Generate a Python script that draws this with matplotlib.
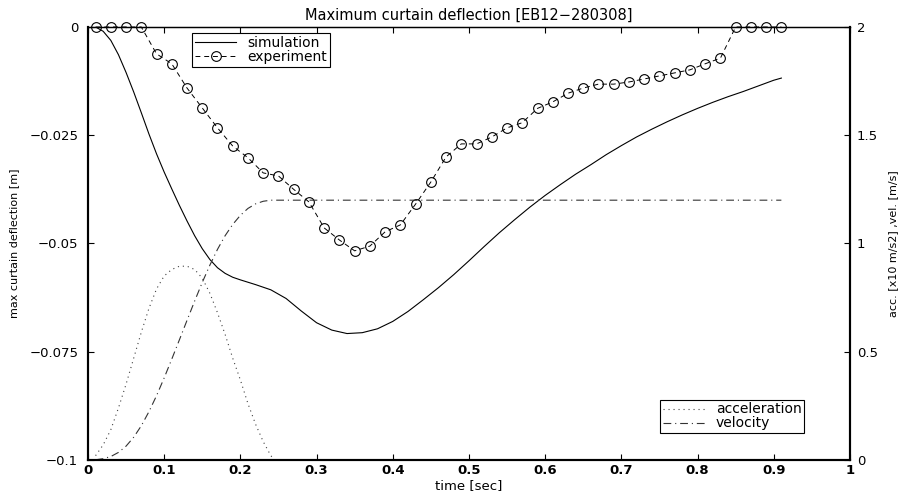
import matplotlib
matplotlib.use("Agg")
import matplotlib.pyplot as plt

# simulation (max curtain deflection, m)
sim_t = [0.01, 0.02, 0.03, 0.04, 0.05, 0.06, 0.07, 0.08, 0.09, 0.10,
         0.11, 0.12, 0.13, 0.14, 0.15, 0.16, 0.17, 0.18, 0.19, 0.20,
         0.22, 0.24, 0.26, 0.28, 0.30, 0.32, 0.34, 0.36, 0.38, 0.40,
         0.42, 0.44, 0.46, 0.48, 0.50, 0.52, 0.54, 0.56, 0.58, 0.60,
         0.62, 0.64, 0.66, 0.68, 0.70, 0.72, 0.74, 0.76, 0.78, 0.80,
         0.82, 0.84, 0.86, 0.88, 0.90, 0.91]
sim_y = [0.0, -0.0010, -0.0031, -0.0064, -0.0105, -0.0150, -0.0198, -0.0247, -0.0293, -0.0335,
         -0.0374, -0.0412, -0.0448, -0.0482, -0.0512, -0.0537, -0.0556, -0.0569, -0.0578, -0.0584,
         -0.0595, -0.0607, -0.0627, -0.0656, -0.0683, -0.0700, -0.0708, -0.0706, -0.0697, -0.0680,
         -0.0657, -0.0630, -0.0602, -0.0572, -0.0540, -0.0507, -0.0475, -0.0445, -0.0416, -0.0389,
         -0.0364, -0.0340, -0.0318, -0.0295, -0.0274, -0.0254, -0.0236, -0.0219, -0.0203, -0.0188,
         -0.0174, -0.0161, -0.0149, -0.0136, -0.0123, -0.0118]

# experiment
exp_t = [0.01, 0.03, 0.05, 0.07, 0.09, 0.11, 0.13, 0.15, 0.17, 0.19,
         0.21, 0.23, 0.25, 0.27, 0.29, 0.31, 0.33, 0.35, 0.37, 0.39,
         0.41, 0.43, 0.45, 0.47, 0.49, 0.51, 0.53, 0.55, 0.57, 0.59,
         0.61, 0.63, 0.65, 0.67, 0.69, 0.71, 0.73, 0.75, 0.77, 0.79,
         0.81, 0.83, 0.85, 0.87, 0.89, 0.91]
exp_y = [0.0, 0.0, 0.0, 0.0, -0.0062, -0.0085, -0.0141, -0.0187, -0.0233, -0.0275,
         -0.0302, -0.0337, -0.0344, -0.0375, -0.0404, -0.0464, -0.0492, -0.0517, -0.0506, -0.0473,
         -0.0457, -0.0409, -0.0358, -0.0300, -0.0270, -0.0270, -0.0254, -0.0233, -0.0221, -0.0188,
         -0.0173, -0.0153, -0.0141, -0.0132, -0.0132, -0.0127, -0.0120, -0.0113, -0.0106, -0.0099,
         -0.0085, -0.0072, 0.0, 0.0, 0.0, 0.0]

# acceleration [x10 m/s2]
acc_t = [0.01, 0.02, 0.03, 0.04, 0.05, 0.06, 0.07, 0.08, 0.09, 0.10,
         0.11, 0.12, 0.13, 0.14, 0.15, 0.16, 0.17, 0.18, 0.19, 0.20,
         0.21, 0.22, 0.23, 0.24, 0.245]
acc_v = [0.02, 0.07, 0.14, 0.24, 0.35, 0.47, 0.59, 0.70, 0.79, 0.85,
         0.88, 0.895, 0.895, 0.88, 0.84, 0.77, 0.68, 0.58, 0.47, 0.37,
         0.26, 0.165, 0.085, 0.02, 0.0]

# velocity [m/s]
vel_t = [0.01, 0.02, 0.03, 0.04, 0.05, 0.06, 0.07, 0.08, 0.09, 0.10,
         0.11, 0.12, 0.13, 0.14, 0.15, 0.16, 0.17, 0.18, 0.19, 0.20,
         0.21, 0.22, 0.23, 0.24, 0.25, 0.91]
vel_v = [0.001, 0.006, 0.016, 0.035, 0.064, 0.105, 0.158, 0.223, 0.297, 0.379,
         0.466, 0.555, 0.645, 0.734, 0.820, 0.900, 0.973, 1.036, 1.088, 1.130,
         1.162, 1.183, 1.195, 1.200, 1.200, 1.200]

xticks = [0, 0.1, 0.2, 0.3, 0.4, 0.5, 0.6, 0.7, 0.8, 0.9, 1]
xticklabels = ['0', '0.1', '0.2', '0.3', '0.4', '0.5', '0.6', '0.7', '0.8', '0.9', '1']
yticks = [-0.1, -0.075, -0.05, -0.025, 0]
yticklabels = ['\u22120.1', '\u22120.075', '\u22120.05', '\u22120.025', '0']
y2ticks = [0, 0.5, 1, 1.5, 2]
y2ticklabels = ['0', '0.5', '1', '1.5', '2']

plt.rcParams['font.family'] = 'DejaVu Sans'
fs = 9.5

fig = plt.figure(figsize=(9.04, 4.96), dpi=100)
ax = fig.add_axes([0.0973, 0.0726, 0.8429, 0.873])
ax2 = ax.twinx()

l_sim, = ax.plot(sim_t, sim_y, color='black', lw=0.8, label='simulation')
l_exp, = ax.plot(exp_t, exp_y, color='black', lw=0.7, ls=(0, (5, 4)),
                 marker='o', ms=7, mfc='none', mec='black', mew=0.8,
                 clip_on=False, label='experiment')

l_acc, = ax2.plot(acc_t, acc_v, color='0.25', lw=0.8, ls=(0, (1, 3.5)),
                  label='acceleration')
l_vel, = ax2.plot(vel_t, vel_v, color='0.2', lw=0.8, ls=(0, (7, 3.5, 1, 3.5)),
                  label='velocity')

ax.set_xlim(0, 1)
ax.set_ylim(-0.1, 0)
ax2.set_ylim(0, 2)

ax.set_xticks(xticks)
ax.set_xticklabels(xticklabels, fontsize=fs, fontweight='bold')
ax.set_yticks(yticks)
ax.set_yticklabels(yticklabels, fontsize=fs)
ax2.set_yticks(y2ticks)
ax2.set_yticklabels(y2ticklabels, fontsize=fs)

ax.tick_params(direction='in', length=4, width=0.8, top=True, right=False)
ax.tick_params(axis='x', pad=3)
ax.tick_params(axis='y', pad=7)
ax2.tick_params(direction='in', length=4, width=0.8, pad=5)

for a in (ax, ax2):
    for side in ('left', 'right', 'bottom'):
        a.spines[side].set_linewidth(1.5)
    a.spines['top'].set_linewidth(0.9)

ax.set_title('Maximum curtain deflection [EB12\u2212280308]', fontsize=10.5, pad=5)
ax.set_xlabel('time [sec]', fontsize=fs, labelpad=1)
ax.set_ylabel('max curtain deflection [m]', fontsize=8, labelpad=7)
ax2.set_ylabel('acc. [x10 m/s2] ,vel. [m/s]', fontsize=8, labelpad=7)

leg_kw = dict(fontsize=10, frameon=True, fancybox=False, edgecolor='black',
              framealpha=1, handlelength=3.0, handletextpad=0.8, borderpad=0.2,
              labelspacing=0.0, borderaxespad=0)

leg1 = ax.legend(handles=[l_sim, l_exp], loc='upper left',
                 bbox_to_anchor=(0.1365, 0.985), **leg_kw)
leg1.get_frame().set_linewidth(0.8)

leg2 = ax2.legend(handles=[l_acc, l_vel], loc='lower right',
                  bbox_to_anchor=(0.94, 0.062), **leg_kw)
leg2.get_frame().set_linewidth(0.8)

fig.savefig('out.png', dpi=100)
